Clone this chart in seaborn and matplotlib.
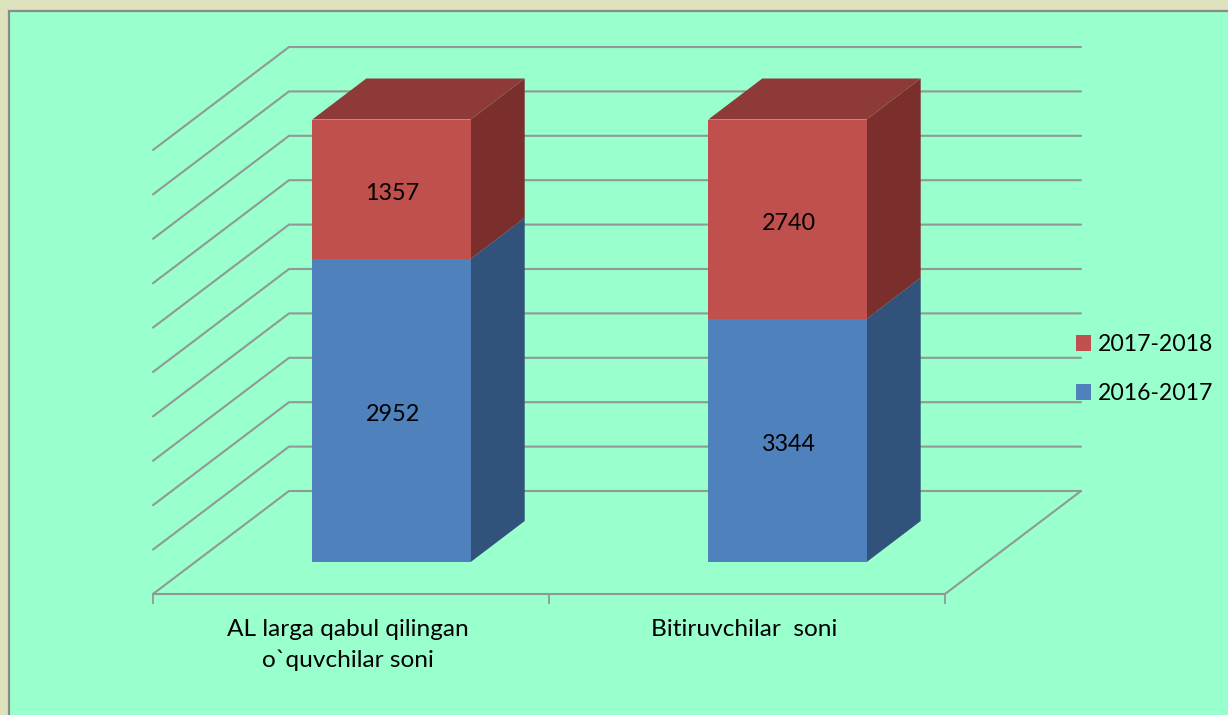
import numpy as np
import matplotlib
matplotlib.use("Agg")
import matplotlib.pyplot as plt
from matplotlib.patches import Polygon, Rectangle
import seaborn as sns

categories = ["AL larga qabul qilingan\no`quvchilar soni", "Bitiruvchilar  soni"]
series_2016 = [2952, 3344]
series_2017 = [1357, 2740]
label_2016 = "2016-2017"
label_2017 = "2017-2018"
grid_ticks = list(range(0, 101, 10))

W, H = 1228, 715
OUTER = "#DBE2BC"
PANEL = "#99FFCC"
LINE = "#8E9A94"

sns.set_theme(style="white")
plt.rcParams['font.family'] = ['Lato', 'DejaVu Sans']

# 100% stacked, so heights come from the shares
total = np.array(series_2016) + np.array(series_2017)
pct_2016 = np.array(series_2016) / total * 100
pct_2017 = np.array(series_2017) / total * 100


def box(x0, y0, x1, y1):
    # pixels from the top left to figure fractions
    return [x0 / W, 1 - y1 / H, (x1 - x0) / W, (y1 - y0) / H]


fig = plt.figure(figsize=(W / 100, H / 100), dpi=100, facecolor=OUTER)
fig.add_artist(Rectangle((9 / W, -0.01), 1.01, 1 - 11 / H + 0.01, transform=fig.transFigure,
                         facecolor=PANEL, edgecolor="#8A8A8A", linewidth=1.6, zorder=-1))

# ax holds the plane the bar fronts stand on, front holds the chart's front edge
ax = fig.add_axes(box(193.5, 119.5, 985.5, 562))
front = fig.add_axes(box(153, 150, 945, 594))
for a in (ax, front):
    a.patch.set_alpha(0)

sns.barplot(x=categories, y=pct_2016, color="#4F81BD", saturation=1, width=0.4,
            ax=ax, label=label_2016, zorder=3, linewidth=0, edgecolor="none")
sns.barplot(x=categories, y=pct_2017, bottom=pct_2016, color="#C0504D", saturation=1, width=0.4,
            ax=ax, label=label_2017, zorder=3, linewidth=0, edgecolor="none")
ax.set_xlim(-0.5, 1.5)
ax.set_ylim(0, 100)
ax.axis("off")

# depth in data units of ax
x_unit = 396.0
y_unit = 4.425
wall_front = (-40.5 / x_unit, -32 / y_unit)
wall_back = (95.5 / x_unit, 71 / y_unit)
bar_depth = (54 / x_unit, 41 / y_unit)
grid_scale = 4.44 / y_unit

for t in grid_ticks:
    y = t * grid_scale
    xs = [-0.5 + wall_front[0], -0.5 + wall_back[0], 1.5 + wall_back[0]]
    ys = [y + wall_front[1], y + wall_back[1], y + wall_back[1]]
    ax.plot(xs, ys, color=LINE, lw=1.5, clip_on=False, zorder=1, solid_joinstyle="miter")
ax.plot([1.5 + wall_front[0], 1.5 + wall_back[0]], [wall_front[1], wall_back[1]],
        color=LINE, lw=1.5, clip_on=False, zorder=1)

dx, dy = bar_depth
sides = {0: "#31527A", 1: "#7A2F2D"}
for i, bars in enumerate(ax.containers):
    for b in bars:
        x, y, w, h = b.get_x(), b.get_y(), b.get_width(), b.get_height()
        ax.add_patch(Polygon([(x + w, y), (x + w + dx, y + dy), (x + w + dx, y + h + dy), (x + w, y + h)],
                             facecolor=sides[i], edgecolor="none", clip_on=False, zorder=2 + i * 0.1))
        if i == 1:
            ax.add_patch(Polygon([(x, y + h), (x + dx, y + h + dy), (x + w + dx, y + h + dy), (x + w, y + h)],
                                 facecolor="#8E3A38", edgecolor="none", clip_on=False, zorder=2.2))

for bars, vals in zip(ax.containers, [series_2016, series_2017]):
    for t in ax.bar_label(bars, labels=vals, label_type="center", fontsize=16.8, color="black"):
        t.xyann = (0.8, -3.2)

handles = [ax.containers[1], ax.containers[0]]
ax.legend(handles, [label_2017, label_2016], loc="center left", frameon=False,
          bbox_to_anchor=(1055 / W, 1 - 369 / H), bbox_transform=fig.transFigure,
          fontsize=16.6, handlelength=0.65, handleheight=0.65, handletextpad=0.3,
          labelspacing=1.22, labelcolor="black")

front.set_xlim(-0.5, 1.5)
front.set_ylim(0, 100)
front.set_yticks([])
front.set_xticks([-0.5, 0.5, 1.5])
front.set_xticklabels([])
front.set_xticks(np.arange(2) - 3 / x_unit, labels=categories, minor=True)
front.tick_params(axis="x", which="major", length=7, width=1.3, color=LINE, bottom=True)
front.tick_params(axis="x", which="minor", length=0, pad=18, labelsize=17.6, labelcolor="black")
for lab in front.get_xticklabels(minor=True):
    lab.set_linespacing(1.56)
for side in ["top", "left", "right"]:
    front.spines[side].set_visible(False)
front.spines["bottom"].set_color(LINE)
front.spines["bottom"].set_linewidth(1.5)

fig.savefig("out.png", dpi=100, facecolor=fig.get_facecolor())
